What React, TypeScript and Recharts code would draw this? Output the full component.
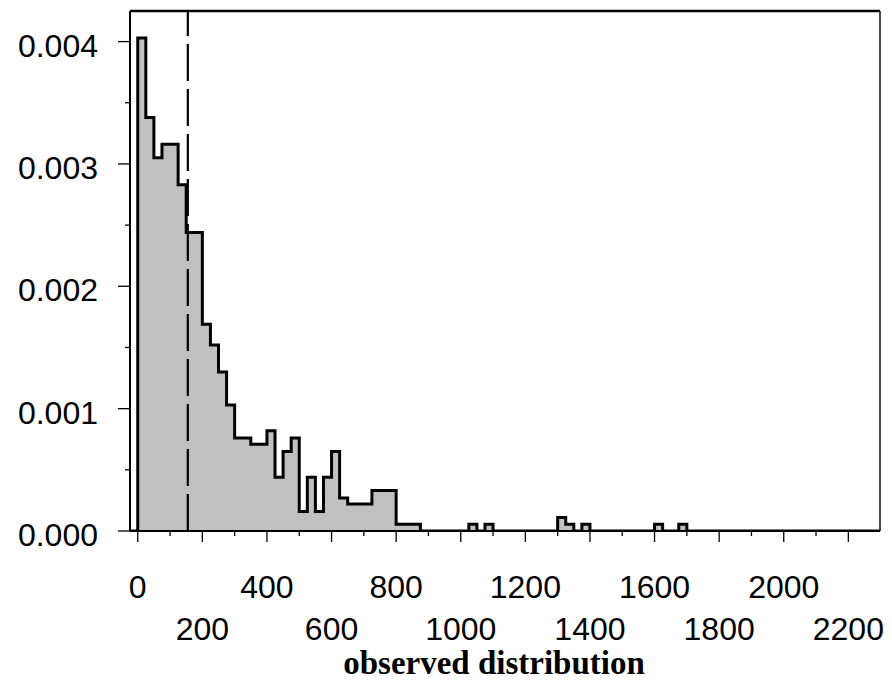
import { ComposedChart, Area, XAxis, YAxis, ReferenceLine } from "recharts";

// histogram bins (width 25), left edge of each bin and its density
const binStart = [
  0, 25, 50, 75, 100, 125, 150, 175, 200, 225, 250, 275, 300, 325, 350, 375,
  400, 425, 450, 475, 500, 525, 550, 575, 600, 625, 650, 675, 700, 725, 750,
  775, 800, 825, 850, 875, 1025, 1050, 1075, 1100, 1300, 1325, 1350, 1375,
  1400, 1600, 1625, 1675, 1700,
];
const density = [
  0.00403, 0.00338, 0.00305, 0.00316, 0.00316, 0.00283, 0.00244, 0.00244,
  0.00169, 0.00152, 0.0013, 0.00103, 0.00076, 0.00076, 0.00071, 0.00071,
  0.00082, 0.00044, 0.00065, 0.00076, 0.00016, 0.00044, 0.00016, 0.00044,
  0.00065, 0.00027, 0.00022, 0.00022, 0.00022, 0.00033, 0.00033, 0.00033,
  0.000055, 0.000055, 0.000055, 0, 0.000055, 0, 0.000055, 0, 0.00011,
  0.000055, 0, 0.000055, 0, 0.000055, 0, 0.000055, 0,
];

const xMin = -24;
const xMax = 2298;
const yMax = 0.00425;
const observedMark = 155;

const xTicks = [
  0, 100, 200, 300, 400, 500, 600, 700, 800, 900, 1000, 1100, 1200, 1300,
  1400, 1500, 1600, 1700, 1800, 1900, 2000, 2100, 2200,
];
const yTicks = [0, 0.0005, 0.001, 0.0015, 0.002, 0.0025, 0.003, 0.0035, 0.004];

const data = [
  { x: xMin, d: 0 },
  ...binStart.map((x, i) => ({ x, d: density[i] })),
  { x: xMax, d: 0 },
];

const labelFont = "'Liberation Sans', Arial, sans-serif";

const XTick = (props: any) => {
  const { x, y, payload } = props;
  const v = payload.value as number;
  const major = v % 200 === 0;
  const row = (v / 200) % 2 === 0 ? 67 : 109;
  return (
    <g>
      <line x1={x} x2={x} y1={y} y2={y + (major ? 11 : 5)} stroke="#000" strokeWidth={1.3} />
      {major && (
        <text x={x} y={y + row} textAnchor="middle" fontSize={32} fontFamily={labelFont} fill="#000">
          {v}
        </text>
      )}
    </g>
  );
};

const YTick = (props: any) => {
  const { x, y, payload } = props;
  const v = payload.value as number;
  const major = Math.round(v * 10000) % 10 === 0;
  return (
    <g>
      <line x1={x - (major ? 12 : 5)} x2={x} y1={y} y2={y} stroke="#000" strokeWidth={1.3} />
      {major && (
        <text x={x - 32} y={y + 15} textAnchor="end" fontSize={32} fontFamily={labelFont} fill="#000">
          {v.toFixed(3)}
        </text>
      )}
    </g>
  );
};

export default function App() {
  return (
    <div style={{ position: "absolute", left: 0, top: 0 }}>
      <ComposedChart
        width={892}
        height={681}
        data={data}
        margin={{ top: 11, right: 12, left: 0, bottom: 0 }}
      >
        <XAxis
          dataKey="x"
          type="number"
          domain={[xMin, xMax]}
          ticks={xTicks}
          interval={0}
          allowDataOverflow
          height={150}
          tickSize={0}
          tickMargin={0}
          tickLine={false}
          axisLine={{ stroke: "#000", strokeWidth: 2 }}
          tick={<XTick />}
          label={{
            content: () => (
              <text
                x={494}
                y={674}
                textAnchor="middle"
                fontSize={33}
                fontWeight="bold"
                fontFamily="'Liberation Serif', 'Times New Roman', serif"
                fill="#000"
              >
                observed distribution
              </text>
            ),
          }}
        />
        <YAxis
          type="number"
          domain={[0, yMax]}
          ticks={yTicks}
          interval={0}
          allowDataOverflow
          width={130}
          tickSize={0}
          tickMargin={0}
          tickLine={false}
          axisLine={{ stroke: "#000", strokeWidth: 2 }}
          tick={<YTick />}
        />
        <Area
          type="stepAfter"
          dataKey="d"
          stroke="#000"
          strokeWidth={3}
          fill="#c0c0c0"
          fillOpacity={1}
          baseValue={0}
          dot={false}
          activeDot={false}
          isAnimationActive={false}
        />
        <ReferenceLine x={observedMark} stroke="#000" strokeWidth={2.2} strokeDasharray="37 8" />
        <ReferenceLine y={yMax} stroke="#000" strokeWidth={2.7} />
        <ReferenceLine x={xMax} stroke="#333" strokeWidth={1.8} />
      </ComposedChart>
    </div>
  );
}
